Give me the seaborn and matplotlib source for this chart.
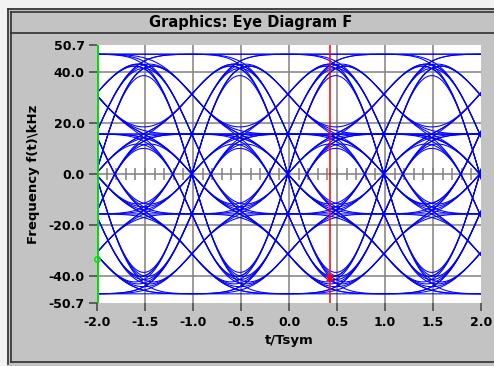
import numpy as np
import pandas as pd
import matplotlib
matplotlib.use("Agg")
import matplotlib.pyplot as plt
import seaborn as sns
from matplotlib.lines import Line2D
from matplotlib.patches import Rectangle

# ---------------- data ----------------
levels_khz = [-47.1, -15.7, 15.7, 47.1]          # 4-FSK deviation levels
symbols = [3, 3, 3, 1, -1, -3, -3, 1, 3, -1, 1, 1, 1, -3, 3, -3, -1, -1, -1, 3,
           1, -3, 1, -1, 3, 3, -1, -3, 3, 1, 1, -1, -3, -1, 1, 3, -3, -3, -3, -1,
           3, -1, -1, 1, -3, -1, 3, 3, 3, 3, -3, 1, 1, -1, 1, 3, -3, 3, 1, -1,
           -1, -3, -3, 1, -3, 3, 1, 3, -1, -3, 1, 1, 1, 1, -1, 3, -3, 1]
bt_product = 0.45                                  # gaussian filter BT
x_ticks = [-2.0, -1.5, -1.0, -0.5, 0.0, 0.5, 1.0, 1.5, 2.0]
x_tick_labels = ["-2.0", "-1.5", "-1.0", "-0.5", "0.0", "0.5", "1.0", "1.5", "2.0"]
y_ticks = [-50.7, -40.0, -20.0, 0.0, 20.0, 40.0, 50.7]
y_tick_labels = ["-50.7", "-40.0", "-20.0", "0.0", "20.0", "40.0", "50.7"]
cursor_t = 0.425
cursor_f = -40.8
left_marker_f = -33.3
title = "Graphics: Eye Diagram F"
x_label = "t/Tsym"
y_label = "Frequency f(t)\\kHz"

# ---------------- build traces ----------------
sps = 40
lv = np.array([levels_khz[(s + 3) // 2] for s in symbols])
nrz = np.repeat(lv, sps)
sigma = np.sqrt(np.log(2)) / (2 * np.pi * bt_product) * sps
k = np.arange(-int(4 * sigma), int(4 * sigma) + 1)
g = np.exp(-k ** 2 / (2 * sigma ** 2))
g /= g.sum()
sig = np.convolve(nrz, g, mode="same")

rows = []
nwin = 4
for w in range(2, len(symbols) - nwin - 2):
    seg = sig[w * sps:(w + nwin) * sps + 1]
    t = np.arange(len(seg)) / sps - 2.0
    rows.append(pd.DataFrame({"t": t, "f": seg, "trace": w}))
df = pd.concat(rows, ignore_index=True)

# ---------------- figure ----------------
W, H = 494, 366
fig = plt.figure(figsize=(W / 100, H / 100), dpi=100)
bg = "#c3c3c3"
fig.patch.set_facecolor(bg)

def fx(x):
    return x / W

def fy(y):
    return 1 - y / H

# window frame decoration
fig.add_artist(Rectangle((0, fy(8)), 1, 8 / H, transform=fig.transFigure,
                         facecolor="#f2f2f2", edgecolor="none", zorder=0))
fig.add_artist(Rectangle((0, 0), fx(7), 1, transform=fig.transFigure,
                         facecolor="#f2f2f2", edgecolor="none", zorder=0))
dark = "#303030"
for (x0, y0, x1, y1) in [(8, 9, W, 9), (11, 12, W, 12), (8, 9, 8, 364), (11, 12, 11, 362),
                         (11, 33, W, 33), (11, 362, W, 362)]:
    fig.add_artist(Line2D([fx(x0), fx(x1)], [fy(y0), fy(y1)], transform=fig.transFigure,
                          color=dark, lw=1.2))

fig.text(fx(251), fy(22), title, ha="center", va="center", fontsize=10.5,
         fontweight="bold", color="black", family="DejaVu Sans")

ax = fig.add_axes([fx(97), fy(303), fx(481) - fx(97), fy(45) - fy(303)])
ax.set_facecolor("white")

grid_c = "#808080"
for xt in x_ticks[1:-1]:
    ax.axvline(xt, color=grid_c, lw=1.1, zorder=1)
for yt in y_ticks[1:-1]:
    ax.axhline(yt, color=grid_c, lw=1.1, zorder=1)
minor = np.round(np.arange(-2.0, 2.001, 0.1), 2)
ax.vlines(minor, -2.2, 2.2, color=grid_c, lw=1.1, zorder=1)

sns.lineplot(data=df, x="t", y="f", units="trace", estimator=None, color="#0000ff",
             lw=0.75, ax=ax, zorder=3, legend=False)

ax.axvline(-2.0, color="#00e000", lw=2.2, zorder=5)
ax.plot([-2.0], [left_marker_f], marker="o", ms=4, mfc="none", mec="#00e000", zorder=6, clip_on=False)
ax.axvline(cursor_t, color="#ff0000", lw=1.1, zorder=5)
ax.plot([cursor_t], [cursor_f], marker="x", ms=5, mew=1.5, color="#ff0000", zorder=6)

ax.set_xlim(-2.0, 2.0)
ax.set_ylim(-50.7, 50.7)
ax.set_xticks(x_ticks, x_tick_labels)
ax.set_yticks(y_ticks, y_tick_labels)
for sp in ax.spines.values():
    sp.set_visible(False)
ax.tick_params(axis="both", length=6, width=1.1, color="#404040", pad=3,
               labelsize=9, labelcolor="black")
for lab in ax.get_xticklabels() + ax.get_yticklabels():
    lab.set_fontweight("bold")
ax.set_xlabel(x_label, fontsize=9.5, fontweight="bold", labelpad=4)
ax.set_ylabel(y_label, fontsize=9.5, fontweight="bold", labelpad=6)
ax.grid(False)

fig.savefig("out.png", dpi=100, facecolor=fig.get_facecolor())
